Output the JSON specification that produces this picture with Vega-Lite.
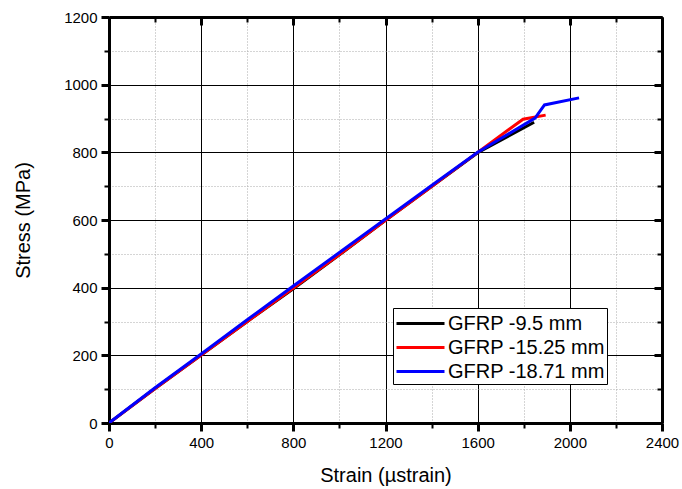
{
  "$schema": "https://vega.github.io/schema/vega-lite/v6.json",
  "width": 553,
  "height": 406,
  "autosize": {"type": "none"},
  "padding": {"left": 109, "top": 17, "right": 20, "bottom": 66},
  "background": "white",
  "config": {
    "view": {"stroke": null},
    "font": "Liberation Sans"
  },
  "data": {
    "values": [
      {"series": "GFRP -9.5 mm", "strain": 0, "stress": 0},
      {"series": "GFRP -9.5 mm", "strain": 200, "stress": 102},
      {"series": "GFRP -9.5 mm", "strain": 400, "stress": 201},
      {"series": "GFRP -9.5 mm", "strain": 600, "stress": 300},
      {"series": "GFRP -9.5 mm", "strain": 800, "stress": 397},
      {"series": "GFRP -9.5 mm", "strain": 1000, "stress": 497},
      {"series": "GFRP -9.5 mm", "strain": 1200, "stress": 599},
      {"series": "GFRP -9.5 mm", "strain": 1400, "stress": 699},
      {"series": "GFRP -9.5 mm", "strain": 1600, "stress": 799},
      {"series": "GFRP -9.5 mm", "strain": 1845, "stress": 889},
      {"series": "GFRP -15.25 mm", "strain": 0, "stress": 0},
      {"series": "GFRP -15.25 mm", "strain": 200, "stress": 102},
      {"series": "GFRP -15.25 mm", "strain": 400, "stress": 201},
      {"series": "GFRP -15.25 mm", "strain": 600, "stress": 300},
      {"series": "GFRP -15.25 mm", "strain": 800, "stress": 399},
      {"series": "GFRP -15.25 mm", "strain": 1000, "stress": 498},
      {"series": "GFRP -15.25 mm", "strain": 1200, "stress": 599},
      {"series": "GFRP -15.25 mm", "strain": 1400, "stress": 699},
      {"series": "GFRP -15.25 mm", "strain": 1600, "stress": 800},
      {"series": "GFRP -15.25 mm", "strain": 1797, "stress": 898},
      {"series": "GFRP -15.25 mm", "strain": 1895, "stress": 910},
      {"series": "GFRP -18.71 mm", "strain": 0, "stress": 0},
      {"series": "GFRP -18.71 mm", "strain": 200, "stress": 104},
      {"series": "GFRP -18.71 mm", "strain": 400, "stress": 204},
      {"series": "GFRP -18.71 mm", "strain": 600, "stress": 305},
      {"series": "GFRP -18.71 mm", "strain": 800, "stress": 405},
      {"series": "GFRP -18.71 mm", "strain": 1000, "stress": 504},
      {"series": "GFRP -18.71 mm", "strain": 1200, "stress": 603},
      {"series": "GFRP -18.71 mm", "strain": 1400, "stress": 702},
      {"series": "GFRP -18.71 mm", "strain": 1600, "stress": 800},
      {"series": "GFRP -18.71 mm", "strain": 1849, "stress": 901},
      {"series": "GFRP -18.71 mm", "strain": 1890, "stress": 940},
      {"series": "GFRP -18.71 mm", "strain": 2040, "stress": 961}
    ]
  },
  "layer": [
    {
      "mark": {"type": "line", "strokeWidth": 3, "clip": true},
      "encoding": {
        "x": {
          "field": "strain",
          "type": "quantitative",
          "scale": {"domain": [0, 2400], "nice": false, "zero": false},
          "axis": {
            "orient": "bottom",
            "title": "Strain (µstrain)",
            "values": [0, 200, 400, 600, 800, 1000, 1200, 1400, 1600, 1800, 2000, 2200, 2400],
            "format": "d",
            "labelExpr": "datum.value % 400 === 0 ? datum.label : ''",
            "labelOverlap": false,
            "labelBound": false,
            "labelFlush": false,
            "labelFont": "Liberation Sans",
            "labelFontSize": 15,
            "labelColor": "black",
            "labelPadding": 4,
            "domainColor": "black",
            "domainWidth": 3,
            "tickColor": "black",
            "tickWidth": {"condition": {"test": "datum.value % 400 === 0", "value": 3}, "value": 2},
            "tickSize": {"condition": {"test": "datum.value % 400 === 0", "value": 8}, "value": 5},
            "grid": true,
            "gridColor": {"condition": {"test": "datum.value % 400 === 0", "value": "#000000"}, "value": "#aaaaaa"},
            "gridDash": {"condition": {"test": "datum.value % 400 === 0", "value": []}, "value": [1, 2]},
            "gridWidth": 1,
            "gridOpacity": 1,
            "titleFont": "Liberation Sans",
            "titleFontSize": 20,
            "titleFontWeight": "normal",
            "titleColor": "black",
            "titlePadding": 15
          }
        },
        "y": {
          "field": "stress",
          "type": "quantitative",
          "scale": {"domain": [0, 1200], "nice": false, "zero": false},
          "axis": {
            "orient": "left",
            "title": "Stress (MPa)",
            "values": [0, 100, 200, 300, 400, 500, 600, 700, 800, 900, 1000, 1100, 1200],
            "format": "d",
            "labelExpr": "datum.value % 200 === 0 ? datum.label : ''",
            "labelOverlap": false,
            "labelBound": false,
            "labelFlush": false,
            "labelFont": "Liberation Sans",
            "labelFontSize": 15,
            "labelColor": "black",
            "labelPadding": 4,
            "domainColor": "black",
            "domainWidth": 3,
            "tickColor": "black",
            "tickWidth": {"condition": {"test": "datum.value % 200 === 0", "value": 3}, "value": 2},
            "tickSize": {"condition": {"test": "datum.value % 200 === 0", "value": 8}, "value": 5},
            "grid": true,
            "gridColor": {"condition": {"test": "datum.value % 200 === 0", "value": "#000000"}, "value": "#aaaaaa"},
            "gridDash": {"condition": {"test": "datum.value % 200 === 0", "value": []}, "value": [1, 2]},
            "gridWidth": 1,
            "gridOpacity": 1,
            "titleFont": "Liberation Sans",
            "titleFontSize": 20,
            "titleFontWeight": "normal",
            "titleColor": "black",
            "titlePadding": 30
          }
        },
        "color": {
          "field": "series",
          "type": "nominal",
          "scale": {
            "domain": ["GFRP -9.5 mm", "GFRP -15.25 mm", "GFRP -18.71 mm"],
            "range": ["#000000", "#ff0000", "#0000ff"]
          },
          "legend": {
            "title": null,
            "orient": "none",
            "legendX": 284,
            "legendY": 291,
            "symbolType": "M-2,0H2",
            "symbolStrokeWidth": 3,
            "symbolSize": 576,
            "symbolFillColor": "transparent",
            "labelFont": "Liberation Sans",
            "labelFontSize": 20,
            "labelColor": "black",
            "labelLimit": 300,
            "labelOffset": 14,
            "rowPadding": 0,
            "padding": 2,
            "strokeColor": "black",
            "fillColor": "white",
            "symbolOffset": 12
          }
        }
      }
    },
    {
      "mark": {"type": "line", "opacity": 0},
      "encoding": {
        "x": {
          "field": "strain",
          "type": "quantitative",
          "scale": {"domain": [0, 2400], "nice": false, "zero": false},
          "axis": {
            "orient": "top",
            "title": null,
            "values": [0, 200, 400, 600, 800, 1000, 1200, 1400, 1600, 1800, 2000, 2200, 2400],
            "labels": false,
            "grid": false,
            "domainColor": "black",
            "domainWidth": 3,
            "tickColor": "black",
            "tickWidth": {"condition": {"test": "datum.value % 400 === 0", "value": 3}, "value": 2},
            "tickSize": {"condition": {"test": "datum.value % 400 === 0", "value": -8}, "value": -5}
          }
        },
        "y": {
          "field": "stress",
          "type": "quantitative",
          "scale": {"domain": [0, 1200], "nice": false, "zero": false},
          "axis": {
            "orient": "right",
            "title": null,
            "values": [0, 100, 200, 300, 400, 500, 600, 700, 800, 900, 1000, 1100, 1200],
            "labels": false,
            "grid": false,
            "domainColor": "black",
            "domainWidth": 3,
            "tickColor": "black",
            "tickWidth": {"condition": {"test": "datum.value % 200 === 0", "value": 3}, "value": 2},
            "tickSize": {"condition": {"test": "datum.value % 200 === 0", "value": -8}, "value": -5}
          }
        },
        "detail": {"field": "series", "type": "nominal"}
      }
    }
  ],
  "resolve": {"axis": {"x": "independent", "y": "independent"}}
}
